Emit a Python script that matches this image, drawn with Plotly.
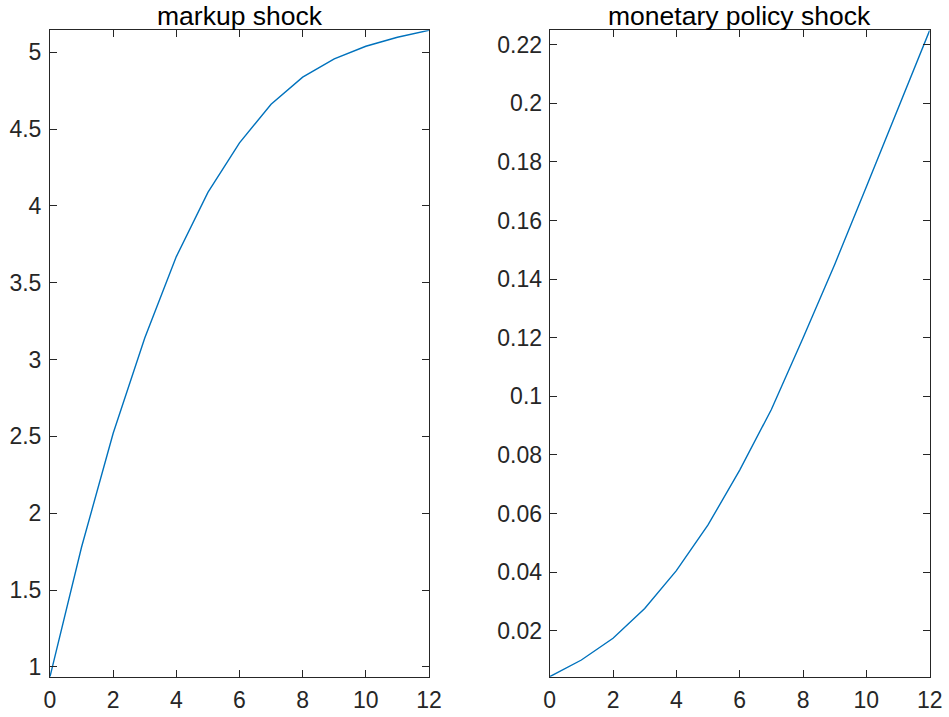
import plotly.graph_objects as go

periods = list(range(13))
markup_shock = [0.936, 1.78, 2.52, 3.14, 3.67, 4.088, 4.41, 4.662, 4.838, 4.957, 5.039, 5.098, 5.143]
monetary_policy_shock = [0.0043, 0.0100, 0.0174, 0.0276, 0.0405, 0.0561, 0.0748, 0.0955, 0.1199,
                         0.1450, 0.1715, 0.1980, 0.2249]

titles = ["markup shock", "monetary policy shock"]
x_ticks = [0, 2, 4, 6, 8, 10, 12]
left_y_ticks = [1, 1.5, 2, 2.5, 3, 3.5, 4, 4.5, 5]
left_y_text = ["1", "1.5", "2", "2.5", "3", "3.5", "4", "4.5", "5"]
right_y_ticks = [0.02, 0.04, 0.06, 0.08, 0.10, 0.12, 0.14, 0.16, 0.18, 0.20, 0.22]
right_y_text = ["0.02", "0.04", "0.06", "0.08", "0.1", "0.12", "0.14", "0.16", "0.18", "0.2", "0.22"]

W, H = 949, 717
axcol = "#262626"
linecol = "#0072BD"
font = "Liberation Sans, Arial, Helvetica, sans-serif"

def px_x(p):
    return p / W

def px_y(p):
    return 1 - p / H

fig = go.Figure()
fig.add_trace(go.Scatter(x=periods, y=markup_shock, mode="lines",
                         line=dict(color=linecol, width=1.4), xaxis="x", yaxis="y", showlegend=False))
fig.add_trace(go.Scatter(x=periods, y=monetary_policy_shock, mode="lines",
                         line=dict(color=linecol, width=1.4), xaxis="x2", yaxis="y2", showlegend=False))

ydom = [px_y(676.7), px_y(30.3)]
common = dict(showgrid=False, zeroline=False, showline=True, linecolor=axcol, linewidth=1,
              mirror="ticks", ticks="inside", ticklen=7, tickwidth=1, tickcolor=axcol,
              tickfont=dict(family=font, size=23, color=axcol), automargin=False)

fig.update_layout(
    width=W, height=H, margin=dict(l=0, r=0, t=0, b=0, pad=0), autosize=False,
    paper_bgcolor="white", plot_bgcolor="white",
    xaxis=dict(domain=[px_x(50), px_x(429)], range=[0, 12], tickvals=x_ticks, anchor="y",
               ticklabelstandoff=3, **common),
    yaxis=dict(domain=ydom, range=[min(markup_shock), max(markup_shock)], tickvals=left_y_ticks,
               ticktext=left_y_text, anchor="x", ticklabelstandoff=3, **common),
    xaxis2=dict(domain=[px_x(549.7), px_x(929.7)], range=[0, 12], tickvals=x_ticks, anchor="y2",
                ticklabelstandoff=3, **common),
    yaxis2=dict(domain=ydom, range=[min(monetary_policy_shock), max(monetary_policy_shock)],
                tickvals=right_y_ticks, ticktext=right_y_text, anchor="x2", ticklabelstandoff=2, **common),
)

centers = [(50 + 429) / 2, (549.7 + 929.7) / 2]
for t, c in zip(titles, centers):
    fig.add_annotation(text=t, x=px_x(c), y=ydom[1], xref="paper", yref="paper",
                       xanchor="center", yanchor="bottom", yshift=-3, showarrow=False,
                       font=dict(family=font, size=26.5, color="black"))

fig.write_html("out.html", config={"displayModeBar": False},
               post_script="document.body.style.margin='0';document.documentElement.style.overflow='hidden';document.body.style.overflow='hidden';")
